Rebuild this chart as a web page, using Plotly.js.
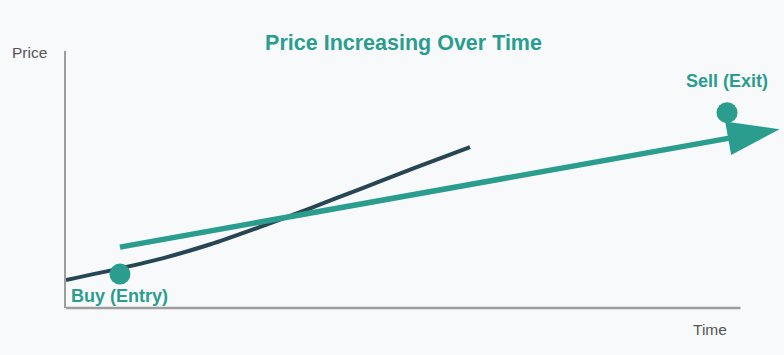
<!DOCTYPE html>
<html>
<head>
<meta charset="utf-8">
<script src="https://cdn.plot.ly/plotly-3.0.1.min.js"></script>
<style>html,body{margin:0;padding:0;background:#f8f9fa;}#chart{width:784px;height:355px;}</style>
</head>
<body>
<div id="chart"></div>
<script>
// Price path (dark curve)
const curveTime = [0, 0.80, 1.47, 2.13, 2.87, 3.61, 4.36, 5.17, 5.99];
const curvePrice = [1.09, 1.54, 1.96, 2.47, 3.15, 3.87, 4.63, 5.45, 6.26];
// Trend arrow (teal)
const trendTime = [0.8, 10.58];
const trendPrice = [2.37, 6.96];
// Buy / Sell points
const pointTime = [0.8, 9.8];
const pointPrice = [1.32, 7.6];
const pointLabels = ["Buy (Entry)", "Sell (Exit)"];
// Axis titles
const xAxisTitle = "Time";
const yAxisTitle = "Price";
const xAxisEnd = 10;   // end of the drawn time axis
const yAxisEnd = 10;   // end of the drawn price axis

const teal = "#2a9d8f";
const dark = "#264653";
const axisGrey = "#9e9e9e";
const font = "Liberation Sans, Arial, sans-serif";

const data = [
  {
    x: curveTime, y: curvePrice, mode: "lines", type: "scatter",
    line: {color: dark, width: 4, shape: "spline", smoothing: 0.7}, hoverinfo: "skip"
  },
  {
    x: trendTime, y: trendPrice, mode: "lines+markers", type: "scatter",
    line: {color: teal, width: 5.5},
    marker: {symbol: "arrow", size: [0, 55], angleref: "previous", color: teal, opacity: 1, line: {width: 0}},
    cliponaxis: false, hoverinfo: "skip"
  },
  {
    x: pointTime, y: pointPrice, mode: "markers", type: "scatter",
    marker: {size: 21, color: teal, opacity: 1},
    cliponaxis: false, hoverinfo: "skip"
  }
];

const labelShift = [-22, 32];
const annotations = pointLabels.map((t, i) => ({
  text: "<b>" + t + "</b>", x: pointTime[i], y: pointPrice[i], xref: "x", yref: "y",
  xanchor: "center", yanchor: "middle", yshift: labelShift[i], showarrow: false,
  font: {family: font, size: 18, color: teal}
}));
annotations.push(
  {text: yAxisTitle, xref: "paper", yref: "paper", x: -0.0785, y: 0.994, xanchor: "left", yanchor: "middle",
   showarrow: false, font: {family: font, size: 15.5, color: "#555"}},
  {text: xAxisTitle, xref: "x", yref: "paper", x: 9.54, y: -0.082, xanchor: "center", yanchor: "middle",
   showarrow: false, font: {family: font, size: 15.5, color: "#555"}}
);

const layout = {
  width: 784, height: 355,
  margin: {l: 66, r: 2.5, t: 51, b: 47},
  paper_bgcolor: "#f8f9fa", plot_bgcolor: "#f8f9fa",
  showlegend: false,
  font: {family: font},
  title: {
    text: "<b>Price Increasing Over Time</b>",
    font: {family: font, size: 21.5, color: teal},
    xref: "container", x: 0.5147, xanchor: "center",
    yref: "container", y: 0.88, yanchor: "middle"
  },
  xaxis: {
    range: [0, 10.6], showgrid: false, zeroline: false, showticklabels: false, ticks: "",
    showline: false, fixedrange: true
  },
  yaxis: {
    range: [0, yAxisEnd], showgrid: false, zeroline: false, showticklabels: false, ticks: "",
    showline: true, linecolor: axisGrey, linewidth: 2.5, fixedrange: true
  },
  shapes: [
    {type: "line", xref: "x", yref: "paper", x0: 0, x1: xAxisEnd, y0: 0, y1: 0,
     line: {color: axisGrey, width: 2.5}, layer: "below"}
  ],
  annotations: annotations
};

Plotly.newPlot("chart", data, layout, {displayModeBar: false, staticPlot: true});
</script>
</body>
</html>
